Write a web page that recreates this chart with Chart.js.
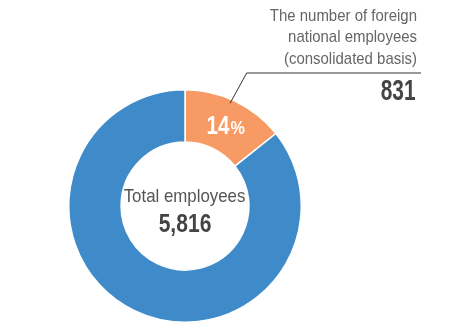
<!DOCTYPE html>
<html>
<head>
<meta charset="utf-8">
<script src="https://cdn.jsdelivr.net/npm/chart.js@4"></script>
<style>
  html, body { margin: 0; padding: 0; background: #fff; }
  #wrap { width: 452px; height: 323px; position: relative; }
</style>
</head>
<body>
<div id="wrap"><canvas id="my-chart" width="452" height="323"></canvas></div>
<script>
// chart data
const categories = ['Foreign national employees', 'Other employees'];
const employeeCounts = [831, 4985];
const totalEmployees = 5816;
const sliceColors = ['#F79A64', '#3F8BC9'];
const calloutLines = ['The number of foreign', 'national employees', '(consolidated basis)'];
const centerLabel = 'Total employees';

const family = '"Liberation Sans", Arial, sans-serif';

// draws text squeezed horizontally to look like a condensed face
function drawText(ctx, str, x, y, font, align, sx) {
  ctx.save();
  ctx.font = font;
  const w = ctx.measureText(str).width * sx;
  let left = x;
  if (align === 'right') left = x - w;
  if (align === 'center') left = x - w / 2;
  ctx.translate(left, y);
  ctx.scale(sx, 1);
  ctx.textAlign = 'left';
  ctx.textBaseline = 'alphabetic';
  ctx.fillText(str, 0, 0);
  ctx.restore();
  return w;
}

function textWidth(ctx, str, font, sx) {
  ctx.save();
  ctx.font = font;
  const w = ctx.measureText(str).width * sx;
  ctx.restore();
  return w;
}

const labelsPlugin = {
  id: 'labels',
  afterDraw(chart) {
    const ctx = chart.ctx;
    const arc = chart.getDatasetMeta(0).data[0];
    const p = arc.getProps(['x', 'y', 'startAngle', 'endAngle', 'innerRadius', 'outerRadius'], true);
    const mid = (p.startAngle + p.endAngle) / 2;

    ctx.save();
    // percentage inside the orange slice
    const pct = String(Math.round(employeeCounts[0] / totalEmployees * 100));
    const rMid = (p.innerRadius + p.outerRadius) / 2;
    const lx = p.x + Math.cos(mid + 0.02) * rMid;
    const ly = p.y + Math.sin(mid + 0.02) * rMid;
    const numFont = 'bold 25.5px ' + family;
    const pFont = 'bold 19px ' + family;
    const numW = textWidth(ctx, pct, numFont, 0.81);
    const pW = textWidth(ctx, '%', pFont, 0.85);
    const startX = lx - (numW + pW + 1) / 2;
    ctx.fillStyle = '#fff';
    drawText(ctx, pct, startX, ly + 8.5, numFont, 'left', 0.81);
    drawText(ctx, '%', startX + numW + 1, ly + 8.5, pFont, 'left', 0.85);

    // leader line
    const sx = p.x + Math.cos(mid - 0.035) * (p.outerRadius - 4);
    const sy = p.y + Math.sin(mid - 0.035) * (p.outerRadius - 4);
    ctx.strokeStyle = '#333';
    ctx.lineWidth = 1;
    ctx.beginPath();
    ctx.moveTo(sx, sy);
    ctx.lineTo(sx + 16.5, 73);
    ctx.lineTo(421, 73);
    ctx.stroke();

    // callout text
    ctx.fillStyle = '#666';
    calloutLines.forEach((t, i) => drawText(ctx, t, 417, 21 + i * 21.3, '17px ' + family, 'right', 0.88));
    ctx.fillStyle = '#444';
    drawText(ctx, employeeCounts[0].toLocaleString('en-US'), 415.5, 100.3, 'bold 29px ' + family, 'right', 0.72);

    // centre text
    ctx.fillStyle = '#555';
    drawText(ctx, centerLabel, p.x - 0.5, p.y - 4, '18.5px ' + family, 'center', 0.91);
    ctx.fillStyle = '#444';
    drawText(ctx, totalEmployees.toLocaleString('en-US'), p.x, p.y + 25.5, 'bold 26px ' + family, 'center', 0.81);
    ctx.restore();
  }
};

const ctx = document.getElementById('my-chart').getContext('2d');
const chart = new Chart(ctx, {
  type: 'doughnut',
  data: {
    labels: categories,
    datasets: [{
      data: employeeCounts,
      backgroundColor: sliceColors,
      borderColor: '#fff',
      borderWidth: 1.5,
      hoverOffset: 0
    }]
  },
  options: {
    responsive: false,
    animation: false,
    cutout: '55%',
    layout: { padding: { left: 68, top: 89, right: 150, bottom: 0 } },
    plugins: {
      legend: { display: false },
      tooltip: { enabled: false }
    }
  },
  plugins: [labelsPlugin]
});
</script>
</body>
</html>
